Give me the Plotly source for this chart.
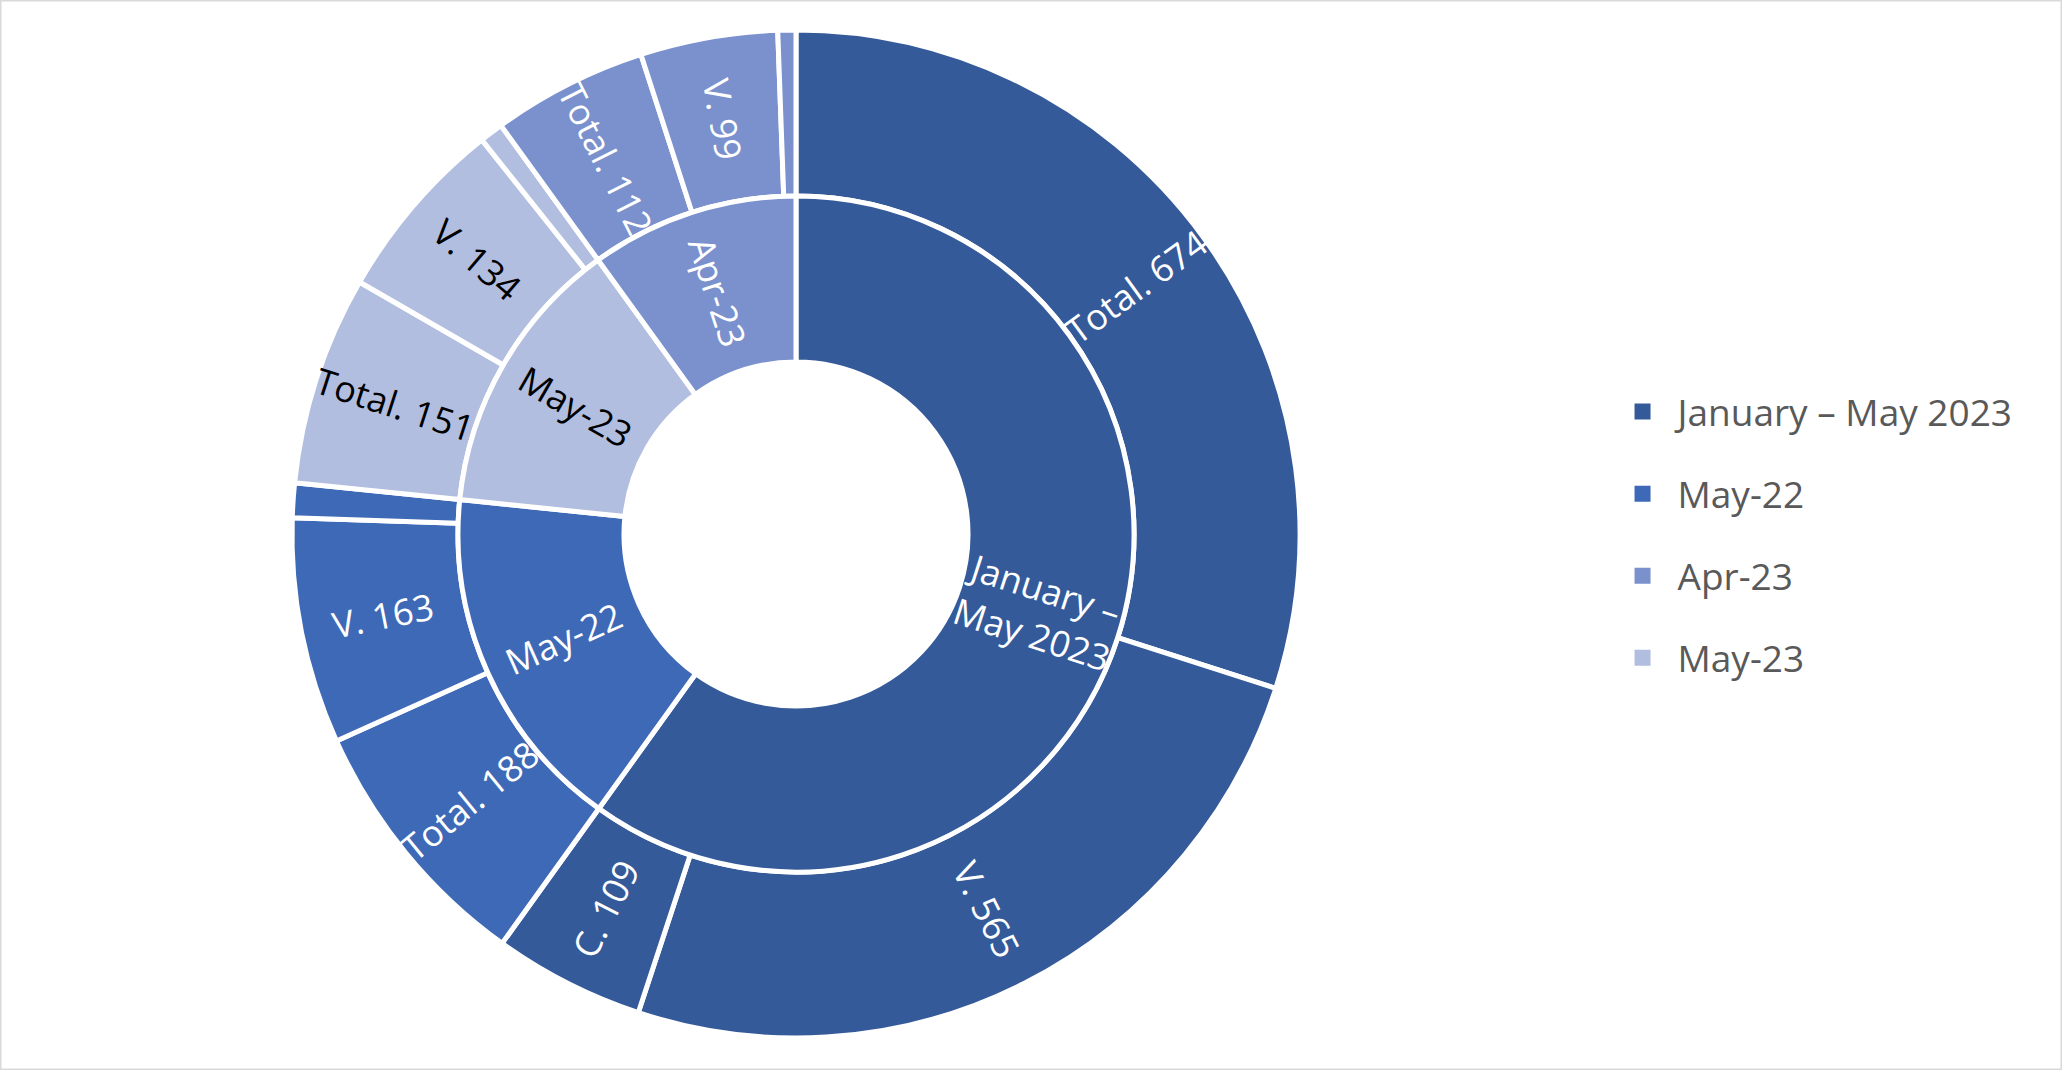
import math
import plotly.graph_objects as go

# inner ring (periods), clockwise from 12 o'clock
periods = ["January – May 2023", "May-22", "May-23", "Apr-23"]
period_text = ["January –<br>May 2023", "May-22", "May-23", "Apr-23"]
period_values = [1348, 376, 302, 224]

# outer ring (Total / V. / C. for each period)
outer_ids = ["jm_total", "jm_v", "jm_c",
             "m22_total", "m22_v", "m22_c",
             "m23_total", "m23_v", "m23_c",
             "a23_total", "a23_v", "a23_c"]
outer_values = [674, 565, 109, 188, 163, 25, 151, 134, 17, 112, 99, 13]
outer_text = ["Total. 674", "V. 565", "C. 109",
              "Total. 188", "V. 163", "",
              "Total. 151", "V. 134", "",
              "Total. 112", "V. 99", ""]

# legend order as shown on the chart
legend_order = ["January – May 2023", "May-22", "Apr-23", "May-23"]

colors = {
    "January – May 2023": "#345A9A",
    "May-22": "#3E69B6",
    "Apr-23": "#7A91CD",
    "May-23": "#B2BEDF",
}
text_colors = {
    "January – May 2023": "white",
    "May-22": "white",
    "Apr-23": "white",
    "May-23": "black",
}

outer_parent = [p for p in periods for _ in range(3)]

W, H = 2062, 1070
cx, cy = 796, 536          # centre, px from left / from bottom
r_out, r_mid, r_hole = 504, 338, 172
FONT = "Open Sans"


def radial_labels(values, texts, text_cols, r):
    # labels along the radius at the middle of each slice (excel style)
    total = sum(values)
    acc = 0
    out = []
    for v, t, c in zip(values, texts, text_cols):
        mid = (acc + v / 2) / total * 360
        acc += v
        if not t:
            continue
        a = math.radians(mid)
        ang = mid - 90
        if ang > 90:
            ang -= 180
        out.append(dict(
            x=(cx + r * math.sin(a)) / W, y=(cy + r * math.cos(a)) / H,
            xref="paper", yref="paper", text=t, showarrow=False,
            textangle=ang, xanchor="center", yanchor="middle",
            font=dict(family=FONT, size=36, color=c),
        ))
    return out


fig = go.Figure()

fig.add_trace(go.Pie(
    labels=outer_ids,
    values=outer_values,
    textinfo="none",
    hoverinfo="skip",
    sort=False,
    direction="clockwise",
    rotation=0,
    hole=r_mid / r_out,
    marker=dict(colors=[colors[p] for p in outer_parent],
                line=dict(color="white", width=5)),
    showlegend=False,
    domain=dict(x=[(cx - r_out) / W, (cx + r_out) / W],
                y=[(cy - r_out) / H, (cy + r_out) / H]),
))

fig.add_trace(go.Pie(
    labels=periods,
    values=period_values,
    textinfo="none",
    hoverinfo="skip",
    sort=False,
    direction="clockwise",
    rotation=0,
    hole=r_hole / r_mid,
    marker=dict(colors=[colors[p] for p in periods],
                line=dict(color="white", width=5)),
    showlegend=False,
    domain=dict(x=[(cx - r_mid) / W, (cx + r_mid) / W],
                y=[(cy - r_mid) / H, (cy + r_mid) / H]),
))

# legend entries
for i, name in enumerate(legend_order):
    fig.add_trace(go.Scatter(
        x=[None], y=[None], mode="markers", name=name,
        legendgroup=str(i),
        marker=dict(symbol="square", size=16, color=colors[name]),
    ))

annotations = radial_labels(outer_values, outer_text,
                            [text_colors[p] for p in outer_parent],
                            (r_mid + r_out) / 2)
annotations += radial_labels(period_values, period_text,
                             [text_colors[p] for p in periods],
                             (r_hole + r_mid) / 2)

fig.update_layout(
    width=W, height=H,
    margin=dict(l=0, r=0, t=0, b=0),
    paper_bgcolor="white",
    plot_bgcolor="white",
    xaxis=dict(visible=False),
    yaxis=dict(visible=False),
    legend=dict(
        x=0.7796, y=0.5, xanchor="left", yanchor="middle",
        font=dict(family=FONT, size=37, color="#595959"),
        tracegroupgap=31,
        itemwidth=60,
        bgcolor="rgba(0,0,0,0)",
    ),
    annotations=annotations,
    shapes=[dict(type="rect", xref="paper", yref="paper",
                 x0=0, x1=1, y0=0, y1=1,
                 line=dict(color="#D9D9D9", width=3))],
)

fig.write_html("out.html", config={"displayModeBar": False},
               post_script="document.body.style.margin='0';")
